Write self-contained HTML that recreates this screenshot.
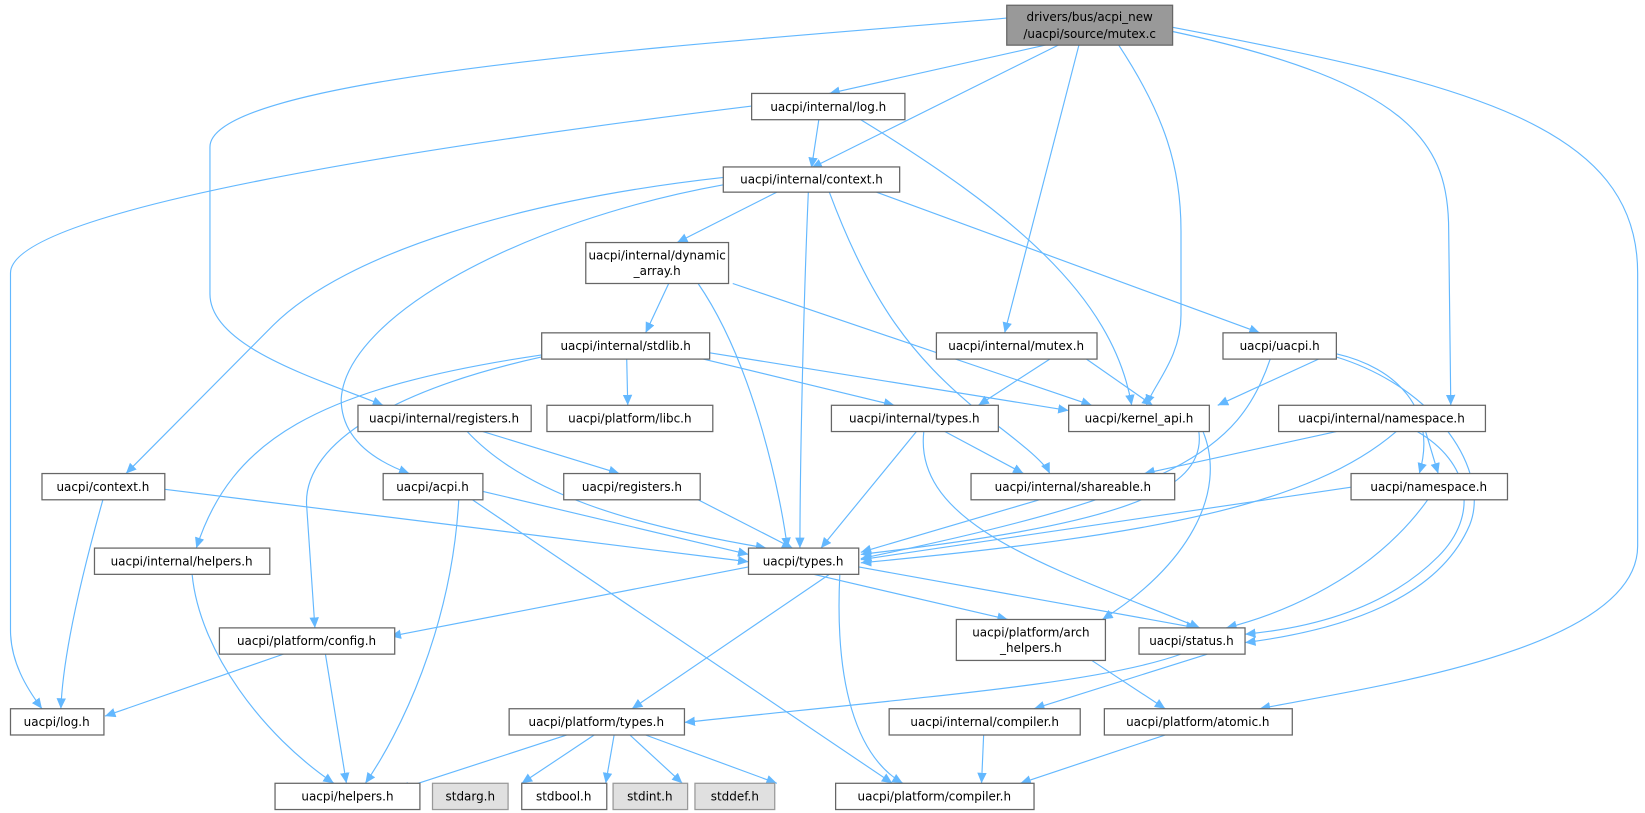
<!DOCTYPE html>
<html><head><meta charset="utf-8"><style>
html,body{margin:0;padding:0;background:#fff;}
svg{display:block;}
text{font-family:"DejaVu Sans","Liberation Sans",sans-serif;font-size:11.4px;fill:#000;}
.n{fill:#fff;stroke:#666;stroke-width:1.2;}
.g{fill:#e0e0e0;stroke:#999;stroke-width:1.2;}
.r{fill:#999;stroke:#666;stroke-width:1.2;}
.e{fill:none;stroke:#63b8ff;stroke-width:1.1;marker-end:url(#a);}
</style></head><body>
<svg width="1645" height="813" viewBox="0 0 1567 774.3" preserveAspectRatio="none" xmlns="http://www.w3.org/2000/svg">
<defs><marker id="a" markerUnits="userSpaceOnUse" markerWidth="12" markerHeight="10" refX="10" refY="4.5" orient="auto"><path d="M0,0 L10,4.5 L0,9 z" fill="#63b8ff"/></marker></defs>
<g>
<path class="e" d="M1000,42 L790,89"/>
<path class="e" d="M1010,42 L773,160"/>
<path class="e" d="M962,17 C700,40 200,70 200,140 L200,280 C200,330 300,360 365,386"/>
<path class="e" d="M716,101 C400,140 10,200 10,260 L10,600 C10,630 25,655 40,675"/>
<path class="e" d="M1028,42 L957,317"/>
<path class="e" d="M1065,42 C1110,110 1125,160 1125,220 L1125,300 C1125,340 1100,365 1092,386"/>
<path class="e" d="M1117,30 C1350,80 1380,140 1380,220 L1382,386"/>
<path class="e" d="M1117,26 C1400,80 1560,120 1560,260 L1560,520 C1560,620 1300,655 1200,675"/>
<path class="e" d="M780,114 L773,160"/>
<path class="e" d="M820,114 C960,200 1060,280 1078,386"/>
<path class="e" d="M740,183 L645,231"/>
<path class="e" d="M689,169 C500,190 330,240 260,310 L120,451"/>
<path class="e" d="M689,176 C500,210 330,300 325,380 C325,420 360,440 390,451"/>
<path class="e" d="M770,183 C765,300 762,450 762,522"/>
<path class="e" d="M790,183 C830,290 870,340 930,390 C970,420 995,440 1000,451"/>
<path class="e" d="M835,183 L1200,317"/>
<path class="e" d="M637,270 L615,317"/>
<path class="e" d="M665,270 C720,350 745,480 750,522"/>
<path class="e" d="M698,270 L1040,386"/>
<path class="e" d="M597,342 L598,386"/>
<path class="e" d="M670,342 L852,386"/>
<path class="e" d="M676,336 L1018,391"/>
<path class="e" d="M516,338 C300,370 220,420 187,522"/>
<path class="e" d="M516,340 C380,370 290,420 292,480 L300,598"/>
<path class="e" d="M1000,342 L932,386"/>
<path class="e" d="M1035,342 L1098,386"/>
<path class="e" d="M1256,342 L1160,386"/>
<path class="e" d="M1210,342 C1180,430 1120,470 820,532"/>
<path class="e" d="M1273,337 C1330,350 1370,390 1352,451"/>
<path class="e" d="M1273,340 C1370,370 1420,450 1400,500 C1370,570 1280,600 1186,612"/>
<path class="e" d="M1350,411 C1400,440 1410,490 1370,530 C1320,580 1250,598 1186,604"/>
<path class="e" d="M460,411 L590,451"/>
<path class="e" d="M445,411 C500,470 600,500 730,522"/>
<path class="e" d="M900,411 L975,451"/>
<path class="e" d="M873,411 L782,522"/>
<path class="e" d="M880,411 C870,500 1000,540 1143,598"/>
<path class="e" d="M1142,411 C1150,470 1060,500 820,528"/>
<path class="e" d="M1146,411 C1170,470 1130,540 1050,590"/>
<path class="e" d="M1273,411 L1090,451"/>
<path class="e" d="M1330,411 C1250,480 1100,510 820,536"/>
<path class="e" d="M1358,411 L1370,451"/>
<path class="e" d="M98,476 C80,540 60,620 58,675"/>
<path class="e" d="M157,466 L713,535"/>
<path class="e" d="M460,468 L713,528"/>
<path class="e" d="M437,476 C430,600 380,700 348,746"/>
<path class="e" d="M450,476 L850,746"/>
<path class="e" d="M665,476 L755,522"/>
<path class="e" d="M990,476 L820,526"/>
<path class="e" d="M1287,464 L820,533"/>
<path class="e" d="M1360,476 C1300,560 1200,590 1168,598"/>
<path class="e" d="M183,547 C190,620 250,700 318,746"/>
<path class="e" d="M713,540 L372,606"/>
<path class="e" d="M790,547 L602,675"/>
<path class="e" d="M775,547 L960,590"/>
<path class="e" d="M818,540 L1140,598"/>
<path class="e" d="M800,547 C795,650 815,720 860,746"/>
<path class="e" d="M270,623 L100,682"/>
<path class="e" d="M310,623 L330,746"/>
<path class="e" d="M1040,629 L1110,675"/>
<path class="e" d="M1125,623 C1050,650 900,662 652,688"/>
<path class="e" d="M1150,623 L985,675"/>
<path class="e" d="M540,700 L380,752"/>
<path class="e" d="M566,700 L497,746"/>
<path class="e" d="M585,700 L577,746"/>
<path class="e" d="M600,700 L650,746"/>
<path class="e" d="M615,700 L740,746"/>
<path class="e" d="M937,700 L935,746"/>
<path class="e" d="M1110,700 L972,746"/>
</g>
<g text-anchor="middle">
<rect class="r" x="959" y="5" width="158" height="38"/><text x="1038" y="20">drivers/bus/acpi_new</text><text x="1038" y="36">/uacpi/source/mutex.c</text>
<rect class="n" x="716" y="89" width="146" height="25"/><text x="789" y="105.5">uacpi/internal/log.h</text>
<rect class="n" x="689" y="159" width="168" height="24"/><text x="773" y="175">uacpi/internal/context.h</text>
<rect class="n" x="558" y="231" width="136" height="39"/><text x="626" y="247">uacpi/internal/dynamic</text><text x="626" y="262">_array.h</text>
<rect class="n" x="516" y="317" width="160" height="25"/><text x="596" y="333.5">uacpi/internal/stdlib.h</text>
<rect class="n" x="892" y="317" width="153" height="25"/><text x="968" y="333.5">uacpi/internal/mutex.h</text>
<rect class="n" x="1165" y="317" width="108" height="25"/><text x="1219" y="333.5">uacpi/uacpi.h</text>
<rect class="n" x="341" y="386" width="165" height="25"/><text x="423" y="402.5">uacpi/internal/registers.h</text>
<rect class="n" x="521" y="386" width="158" height="25"/><text x="600" y="402.5">uacpi/platform/libc.h</text>
<rect class="n" x="792" y="386" width="159" height="25"/><text x="871" y="402.5">uacpi/internal/types.h</text>
<rect class="n" x="1018" y="386" width="134" height="25"/><text x="1085" y="402.5">uacpi/kernel_api.h</text>
<rect class="n" x="1218" y="386" width="197" height="25"/><text x="1316" y="402.5">uacpi/internal/namespace.h</text>
<rect class="n" x="40" y="451" width="117" height="25"/><text x="98" y="467.5">uacpi/context.h</text>
<rect class="n" x="365" y="451" width="95" height="25"/><text x="412" y="467.5">uacpi/acpi.h</text>
<rect class="n" x="537" y="451" width="130" height="25"/><text x="602" y="467.5">uacpi/registers.h</text>
<rect class="n" x="925" y="451" width="194" height="25"/><text x="1022" y="467.5">uacpi/internal/shareable.h</text>
<rect class="n" x="1287" y="451" width="149" height="25"/><text x="1361" y="467.5">uacpi/namespace.h</text>
<rect class="n" x="90" y="522" width="167" height="25"/><text x="173" y="538.5">uacpi/internal/helpers.h</text>
<rect class="n" x="713" y="522" width="105" height="25"/><text x="765" y="538.5">uacpi/types.h</text>
<rect class="n" x="209" y="598" width="167" height="25"/><text x="292" y="614.5">uacpi/platform/config.h</text>
<rect class="n" x="911" y="590" width="142" height="39"/><text x="982" y="606">uacpi/platform/arch</text><text x="982" y="621">_helpers.h</text>
<rect class="n" x="1085" y="598" width="101" height="25"/><text x="1135" y="614.5">uacpi/status.h</text>
<rect class="n" x="10" y="675" width="89" height="25"/><text x="54" y="691.5">uacpi/log.h</text>
<rect class="n" x="485" y="675" width="167" height="25"/><text x="568" y="691.5">uacpi/platform/types.h</text>
<rect class="n" x="847" y="675" width="182" height="25"/><text x="938" y="691.5">uacpi/internal/compiler.h</text>
<rect class="n" x="1052" y="675" width="179" height="25"/><text x="1141" y="691.5">uacpi/platform/atomic.h</text>
<rect class="n" x="262" y="746" width="138" height="25"/><text x="331" y="762.5">uacpi/helpers.h</text>
<rect class="g" x="412" y="746" width="72" height="25"/><text x="448" y="762.5">stdarg.h</text>
<rect class="n" x="497" y="746" width="81" height="25"/><text x="537" y="762.5">stdbool.h</text>
<rect class="g" x="584" y="746" width="71" height="25"/><text x="619" y="762.5">stdint.h</text>
<rect class="g" x="662" y="746" width="76" height="25"/><text x="700" y="762.5">stddef.h</text>
<rect class="n" x="796" y="746" width="189" height="25"/><text x="890" y="762.5">uacpi/platform/compiler.h</text>
</g>
</svg>
</body></html>
